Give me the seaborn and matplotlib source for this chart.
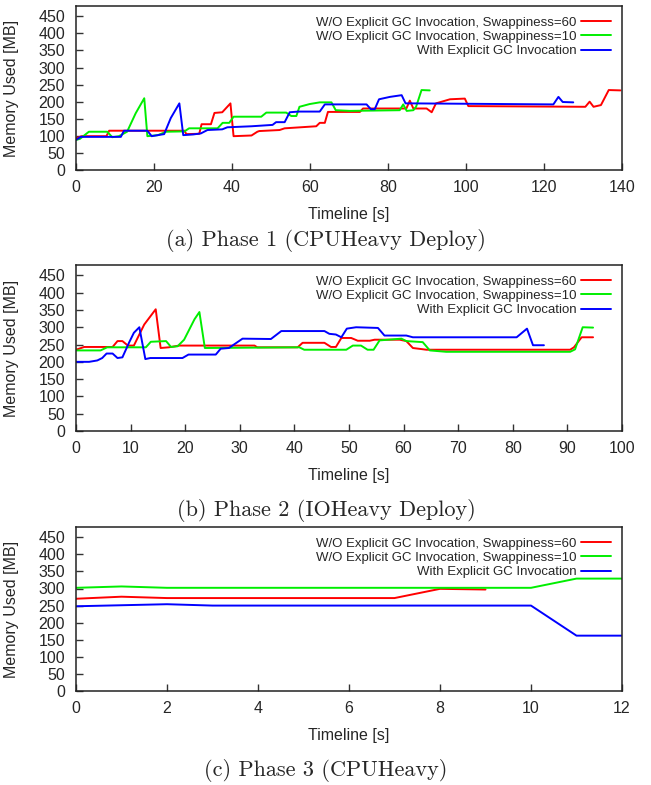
import numpy as np
import pandas as pd
import matplotlib
matplotlib.use("Agg")
import matplotlib.pyplot as plt
import seaborn as sns

# series names
lbl_60 = "W/O Explicit GC Invocation, Swappiness=60"
lbl_10 = "W/O Explicit GC Invocation, Swappiness=10"
lbl_gc = "With Explicit GC Invocation"

# Phase 1 (CPUHeavy Deploy)
p1_red_t = [0, 1.5, 7.8, 8.5, 27.8, 28.3, 31.6, 32.2, 34.6, 35.5, 37.5, 39.6, 40.4, 45, 46.5, 47,
            52.2, 53.5, 61.6, 62.5, 63.8, 64.6, 72.8, 73.6, 84.7, 85.6, 86.5, 89.9, 91.2, 92.3, 95.9,
            99.7, 100.6, 130.6, 131.7, 132.7, 134.6, 136.6, 139.6]
p1_red_v = [93, 99, 99, 115, 115, 105, 106, 134, 134, 167, 169, 195, 99, 101, 112, 114,
            117, 122, 128, 138, 138, 170, 170, 180, 180, 203, 180, 180, 169, 195, 207,
            209, 187, 185, 200, 185, 190, 234, 233]
p1_green_t = [0, 1, 3.3, 8, 9.3, 11, 13.1, 15.3, 17.5, 18.3, 21, 23.1, 27.8, 29, 36.3, 37.6, 39.3,
              40.4, 47.5, 48.8, 53.9, 55.2, 56.5, 57.3, 59.9, 62.5, 65.5, 66.6, 70.2, 83, 83.9,
              84.8, 86.5, 87.2, 88.6, 90.7]
p1_green_v = [88, 91, 112, 112, 96, 99, 112, 166, 210, 99, 102, 112, 113, 122, 122, 138, 138,
              156, 156, 168, 168, 158, 158, 185, 193, 198, 198, 175, 173, 175, 192,
              173, 175, 185, 234, 233]
p1_blue_t = [0, 1.2, 11.5, 12.3, 18.3, 19.4, 21.5, 22.6, 24.3, 26.5, 27.5, 30, 32, 33.7, 37.5, 38.8,
             45, 50.4, 51.3, 53.5, 54.8, 57, 62.5, 63.8, 74.5, 75.6, 76.6, 77.7, 80.5, 83.5, 84.5,
             86, 122.4, 123.7, 124.8, 127.5]
p1_blue_v = [88, 97, 97, 115, 115, 99, 103, 105, 152, 195, 102, 104, 107, 117, 119, 125,
             128, 132, 140, 140, 169, 171, 171, 192, 192, 178, 178, 207, 214, 219, 195,
             195, 192, 214, 199, 198]

# Phase 2 (IOHeavy Deploy)
p2_red_t = [0, 1.5, 6.7, 7.6, 8.5, 9.5, 10.6, 12.5, 14.6, 15.5, 17, 18.9, 32.7, 33.2, 40.6, 41.5,
            45.5, 46.7, 47.6, 48.6, 50.4, 51.6, 53.8, 54.7, 59.3, 60.5, 61.7, 64.2, 90.5, 91.2,
            92.6, 94.7]
p2_red_v = [235, 243, 243, 260, 260, 247, 247, 308, 352, 240, 242, 247, 247, 242, 242, 255,
            255, 243, 243, 269, 269, 261, 261, 264, 264, 260, 240, 235, 235, 242,
            271, 271]
p2_green_t = [0, 4.5, 5.7, 12.8, 13.7, 16.5, 17.4, 18.6, 19.8, 21.7, 22.6, 23.6, 40.9, 41.8, 49.5,
              50.7, 52.2, 53.4, 54.5, 55.6, 59.6, 60.5, 63.5, 64.8, 67.8, 90.5, 91.4, 92.8, 94.7]
p2_green_v = [233, 233, 242, 242, 258, 260, 243, 245, 264, 323, 344, 240, 242, 235, 235,
              247, 247, 235, 235, 262, 267, 260, 257, 233, 229, 229, 236, 300, 299]
p2_blue_t = [0, 2.4, 3.9, 4.8, 5.6, 6.7, 7.6, 8.5, 9.7, 10.6, 11.6, 12.7, 13.6, 19.5, 20.6, 25.6,
             26.5, 28, 30.5, 35.7, 37.6, 45.5, 46.4, 47.6, 48.6, 49.6, 51.3, 55.3, 56.5, 60.5,
             61.7, 80.7, 82.6, 83.7, 85.7]
p2_blue_v = [200, 200, 204, 211, 224, 224, 211, 213, 255, 284, 300, 208, 211, 211, 221, 221,
             238, 240, 267, 266, 289, 289, 281, 279, 271, 296, 300, 298, 276, 276,
             271, 271, 296, 248, 248]

# Phase 3 (CPUHeavy)
p3_red_t = [0, 1, 2, 3, 4, 5, 6, 7, 8, 9]
p3_red_v = [270, 276, 272, 272, 272, 272, 272, 272, 299, 297]
p3_green_t = [0, 1, 2, 3, 4, 5, 6, 7, 8, 9, 10, 11, 12]
p3_green_v = [302, 306, 302, 302, 302, 302, 302, 302, 302, 302, 302, 329, 329]
p3_blue_t = [0, 1, 2, 3, 4, 5, 6, 7, 8, 9, 10, 11, 12]
p3_blue_v = [248, 251, 254, 250, 250, 250, 250, 250, 250, 250, 250, 162, 162]

panels = [
    ((p1_red_t, p1_red_v), (p1_green_t, p1_green_v), (p1_blue_t, p1_blue_v)),
    ((p2_red_t, p2_red_v), (p2_green_t, p2_green_v), (p2_blue_t, p2_blue_v)),
    ((p3_red_t, p3_red_v), (p3_green_t, p3_green_v), (p3_blue_t, p3_blue_v)),
]
xmax = [140, 100, 12]
xstep = [20, 10, 2]
captions = ["(a) Phase 1 (CPUHeavy Deploy)", "(b) Phase 2 (IOHeavy Deploy)", "(c) Phase 3 (CPUHeavy)"]
order = [lbl_60, lbl_10, lbl_gc]
colors = {lbl_60: "#ff0000", lbl_10: "#00ee00", lbl_gc: "#0000ff"}

sns.set_style("white")
plt.rcParams['font.family'] = ['Liberation Sans', 'DejaVu Sans']

W, H = 651, 785
fig = plt.figure(figsize=(W / 100, H / 100), dpi=100)

# axes boxes in pixels: (top, bottom)
boxes = [(6, 170), (265, 431), (527, 691)]
cap_y = [241, 510, 770]
left, right = 76, 622

for i, ((top, bot), series) in enumerate(zip(boxes, panels)):
    ax = fig.add_axes([left / W, (H - bot) / H, (right - left) / W, (bot - top) / H])
    frames = []
    for name, (t, v) in zip(order, series):
        frames.append(pd.DataFrame({"t": t, "mem": v, "series": name}))
    df = pd.concat(frames, ignore_index=True)
    sns.lineplot(data=df, x="t", y="mem", hue="series", hue_order=order, palette=colors,
                 estimator=None, sort=False, lw=1.4, ax=ax)

    ax.set_xlim(0, xmax[i])
    ax.set_ylim(0, 480)
    ax.set_xticks(np.arange(0, xmax[i] + 0.1, xstep[i]))
    ax.set_yticks(np.arange(0, 451, 50))
    ax.tick_params(direction="in", length=5, width=1, labelsize=11.5, color="#333333",
                   bottom=True, left=True, top=False, right=False)
    ax.tick_params(axis="x", pad=7)
    ax.tick_params(axis="y", pad=8)
    for sp in ax.spines.values():
        sp.set_linewidth(1.1)
        sp.set_color("#222222")

    ax.set_xlabel("Timeline [s]", fontsize=11.5)
    ax.set_ylabel("Memory Used [MB]", fontsize=11.5)
    ax.xaxis.set_label_coords(0.5, -37 / (bot - top))
    ax.yaxis.set_label_coords((19 - left) / (right - left), 0.5)

    sns.move_legend(ax, "upper right", title=None, frameon=False, markerfirst=False,
                    fontsize=9.5, handlelength=2.3, handletextpad=0.35, labelspacing=0.15,
                    borderpad=0.2, borderaxespad=0.6)

    fig.text(326 / W, 1 - cap_y[i] / H, captions[i], family="cmr10", fontsize=16,
             ha="center", va="center")

fig.savefig("out.png", dpi=100)
